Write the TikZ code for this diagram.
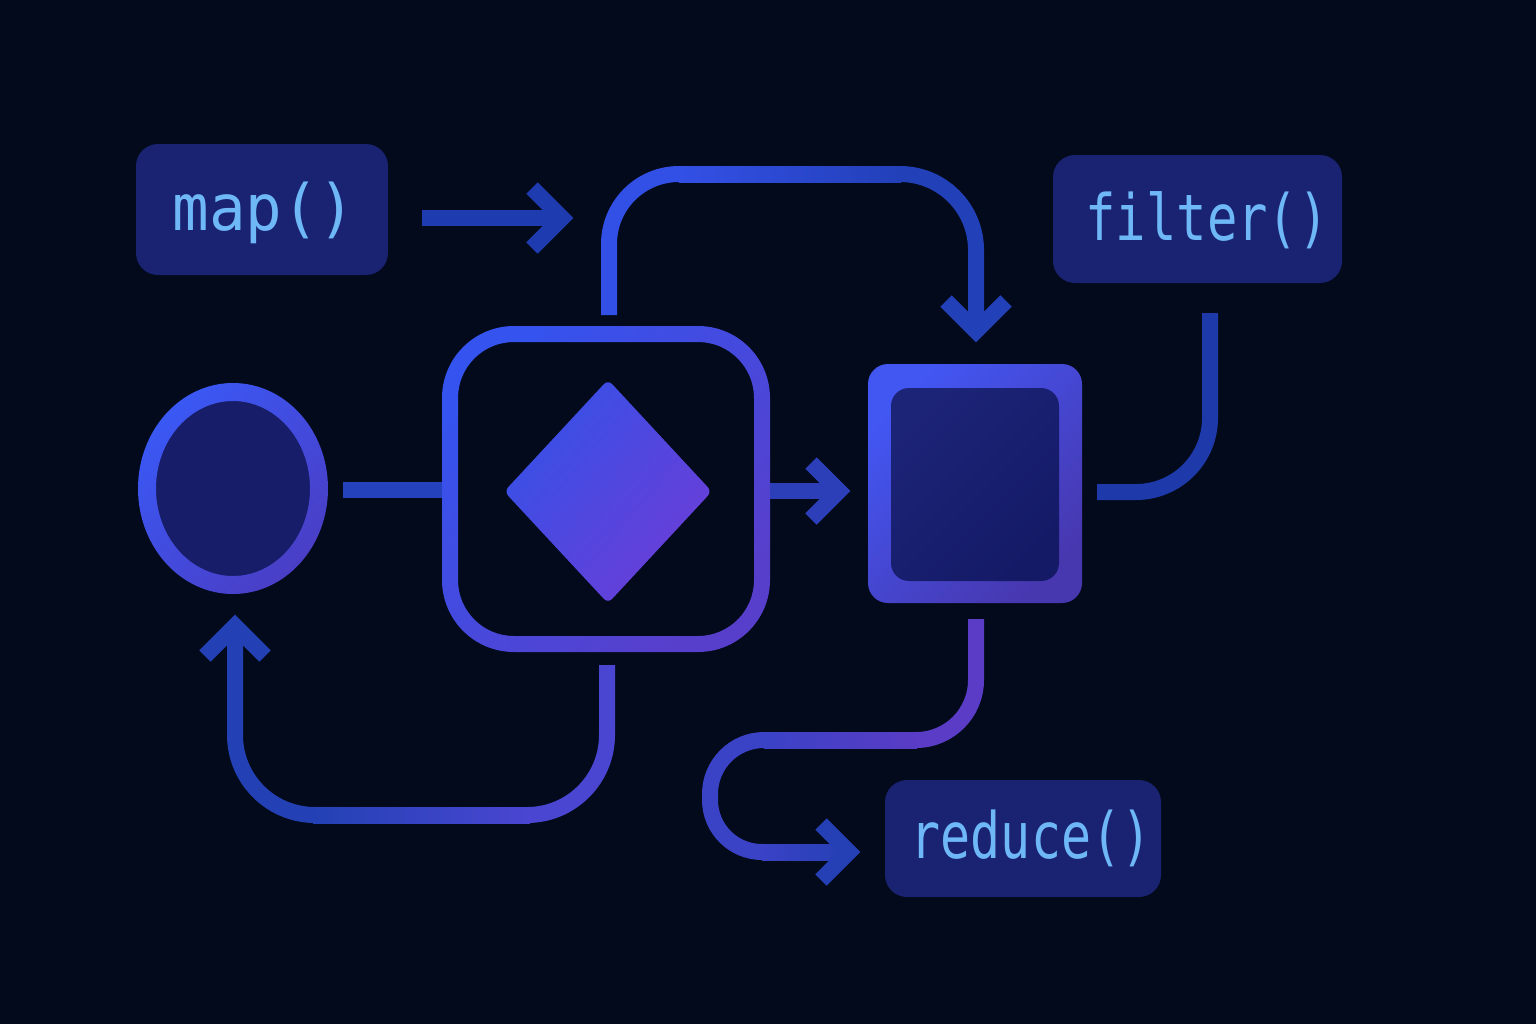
\documentclass[tikz,border=0pt]{standalone}
\usepackage{fontspec}
\usepackage{graphicx}
\newfontfamily\codefont{DejaVu Sans Mono}
\usetikzlibrary{shapes.geometric}
\definecolor{bg}{HTML}{020A1B}
\definecolor{boxfill}{HTML}{1A2272}
\definecolor{codetxt}{HTML}{6EB8F8}
\definecolor{ringA}{HTML}{3A58F4}
\definecolor{ringB}{HTML}{4A3EC6}
\definecolor{darkfill}{HTML}{171D68}
\definecolor{ctrA}{HTML}{3553EE}
\definecolor{ctrB}{HTML}{583FCB}
\definecolor{diaA}{HTML}{3750E6}
\definecolor{diaB}{HTML}{6A3ED8}
\definecolor{sqA}{HTML}{4256F2}
\definecolor{sqB}{HTML}{4838B0}
\definecolor{sqinA}{HTML}{1C2478}
\definecolor{sqinB}{HTML}{141A66}
\definecolor{topA}{HTML}{3350E6}
\definecolor{topB}{HTML}{2240B8}
\definecolor{wireMap}{HTML}{1F3BB0}
\definecolor{wireMid}{HTML}{2442BC}
\definecolor{wireSq}{HTML}{2C3EB8}
\definecolor{wireFil}{HTML}{1E3AAA}
\definecolor{blR}{HTML}{4A46D2}
\definecolor{blL}{HTML}{2341B4}
\definecolor{srA}{HTML}{5A3CC6}
\definecolor{srB}{HTML}{3A42C6}
\definecolor{srC}{HTML}{2440B4}
\begin{document}
\begin{tikzpicture}[x=0.5pt,y=-0.5pt,
  labelbox/.style={rectangle, rounded corners=11pt, fill=boxfill, inner sep=0pt},
  codetext/.style={text=codetxt, font=\codefont\fontsize{32}{32}\selectfont, inner sep=0pt, anchor=base},
  wire/.style={line width=8pt, line cap=butt, line join=round},
  chev/.style={line width=8pt, line cap=butt, line join=miter}]
\fill[bg] (0,0) rectangle (1536,1024);
\useasboundingbox (0,0) rectangle (1536,1024);

% ---------- connectors ----------
% map arrow
\coordinate (mapS) at (422,218);
\coordinate (mapT) at (562,218);
\draw[wire, wireMap] (mapS) -- (mapT);
\draw[chev, wireMap] (532,188) -- (mapT) -- (532,248);

% circle -> center box
\coordinate (cS) at (343,490);
\coordinate (cT) at (446,490);
\draw[wire, wireMid] (cS) -- (cT);

% center box -> square
\coordinate (qS) at (766,491);
\coordinate (qT) at (839,491);
\draw[wire, wireSq] (qS) -- (qT);
\draw[chev, wireSq] (811,463) -- (qT) -- (811,519);

% top loop
\coordinate (tS) at (609,315);
\coordinate (tT) at (976,331);
\draw[wire, topA, rounded corners=35pt] (tS) -- (609,174) -- (681,174);
\shade[left color=topA, right color=topB] (679,166) rectangle (901,182);
\draw[wire, topB, rounded corners=38pt] (899,174) -- (976,174) -- (tT);
\draw[chev, topB] (946,301) -- (tT) -- (1006,301);

% filter line
\coordinate (fS) at (1210,313);
\coordinate (fT) at (1097,492);
\draw[wire, wireFil, rounded corners=37pt] (fS) -- (1210,492) -- (fT);

% bottom-left loop
\coordinate (bS) at (607,665);
\coordinate (bT) at (235,626);
\draw[wire, blR, rounded corners=40pt] (bS) -- (607,815) -- (526,815);
\shade[left color=blL, right color=blR] (313,807) rectangle (530,823);
\draw[wire, blL, rounded corners=40pt] (317,815) -- (235,815) -- (bT);
\draw[chev, blL] (205,656) -- (bT) -- (265,656);

% square -> reduce
\coordinate (rS) at (976,619);
\coordinate (rT) at (849,852);
\draw[wire, srA, rounded corners=30pt] (rS) -- (976,740) -- (914,740);
\shade[left color=srB, right color=srA] (764,732) rectangle (917,748);
\draw[wire, srB, rounded corners=27pt] (767,740) -- (710,740) [rounded corners=26pt] -- (710,852) -- (764,852);
\shade[left color=srB, right color=srC] (762,844) rectangle (849,860);
\draw[chev, srC] (821,824) -- (rT) -- (821,880);

% ---------- shapes ----------
% label boxes
\node[labelbox, minimum width=126pt, minimum height=65.5pt] (map) at (262,209.5) {};
\node[codetext] (maptxt) at (264,230) {\scalebox{0.95}[1]{map()}};
\node[labelbox, minimum width=144.5pt, minimum height=64pt] (filter) at (1197.5,219) {};
\node[codetext] (filtertxt) at (1207,240) {\scalebox{0.79}[1]{filter()}};
\node[labelbox, minimum width=138pt, minimum height=58.5pt] (reduce) at (1023,838.5) {};
\node[codetext] (reducetxt) at (1031,858) {\scalebox{0.78}[1]{reduce()}};

% circle
\node[ellipse, minimum width=86pt, minimum height=96.5pt, inner sep=0pt, fill=darkfill] (circ) at (233,488.5) {};
\shade[even odd rule, top color=ringA, bottom color=ringB, shading angle=45]
  (circ.center) ellipse [x radius=95, y radius=105.5]
  (circ.center) ellipse [x radius=77, y radius=87.5];

% center box
\node[rectangle, minimum width=156pt, minimum height=155pt, inner sep=0pt] (ctr) at (606,489) {};
\shade[even odd rule, top color=ctrA, bottom color=ctrB, shading angle=45]
  [rounded corners=36pt] (442,326) rectangle (770,652)
  [rounded corners=28pt] (458,342) rectangle (754,636);

% diamond
\node[diamond, minimum width=104pt, minimum height=112pt, inner sep=0pt,
      top color=diaA, bottom color=diaB, shading angle=50, rounded corners=3pt] (dia) at (608,491.5) {};

% right square
\node[rectangle, rounded corners=10pt, minimum width=107pt, minimum height=119.5pt, inner sep=0pt,
      top color=sqA, bottom color=sqB, shading angle=45] (sq) at (975,483.5) {};
\node[rectangle, rounded corners=9pt, minimum width=84pt, minimum height=96.5pt, inner sep=0pt,
      top color=sqinA, bottom color=sqinB, shading angle=45] (sqin) at (975,484.5) {};
\end{tikzpicture}
\end{document}
